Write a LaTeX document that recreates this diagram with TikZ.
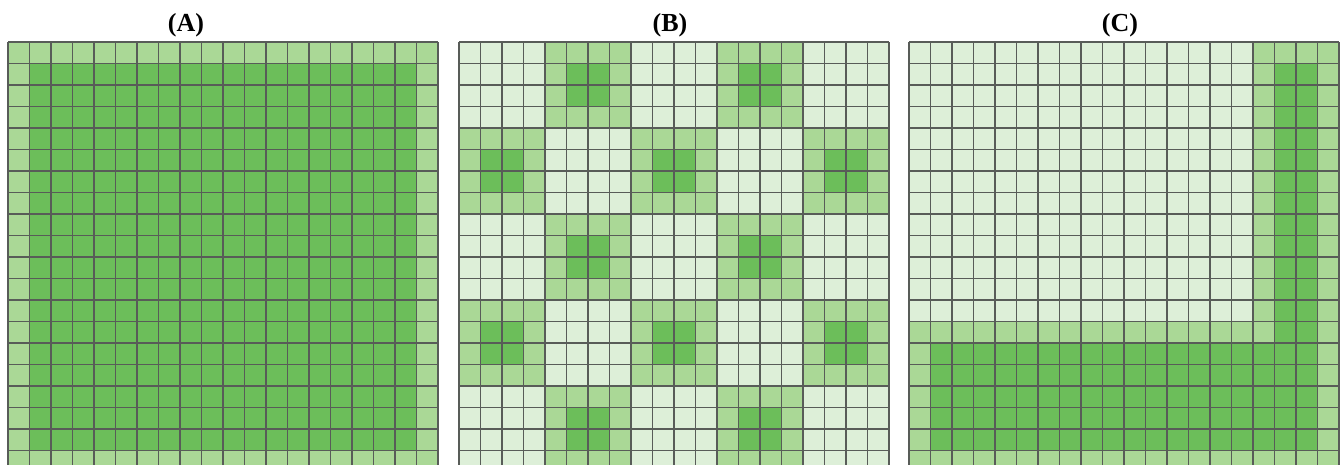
\documentclass[tikz,border=0pt]{standalone}
\usepackage{fontspec}
\setmainfont{Liberation Serif}
\usetikzlibrary{positioning}
\definecolor{gdark}{RGB}{108,190,90}
\definecolor{glight}{RGB}{170,216,150}
\definecolor{gpale}{RGB}{221,239,216}
\definecolor{gline}{RGB}{88,92,88}
\newcommand{\csize}{21.5}
% fill cells col #2..#4, row #3..#5 (1-based) with style #1
\newcommand{\cells}[5]{\fill[#1] ({((#2)-1)*\csize},{((#3)-1)*\csize}) rectangle ({(#4)*\csize},{(#5)*\csize});}

\tikzset{
  panel label/.style={font=\fontsize{26}{28}\selectfont\bfseries, anchor=base},
  grid line/.style={gline, line width=1.4pt},
}

\begin{document}
\begin{tikzpicture}[x=1pt, y=-1pt]
  \useasboundingbox (0,0) rectangle (1343,464);
  \clip (0,0) rectangle (1343,464);

  % labels
  \node[panel label] (labA) at (186,31) {(A)};
  \node[panel label] (labB) at (670,31) {(B)};
  \node[panel label] (labC) at (1120,31) {(C)};

  % (A) full square
  \begin{scope}[shift={(8,42)}]
    \cells{glight}{1}{1}{20}{20}
    \cells{gdark}{2}{2}{19}{19}
    \foreach \i in {0,...,20} {
      \draw[grid line] ({\i*\csize},0) -- ({\i*\csize},{20*\csize});
      \draw[grid line] (0,{\i*\csize}) -- ({20*\csize},{\i*\csize});
    }
  \end{scope}

  % (B) checkerboard of small squares
  \begin{scope}[shift={(459,42)}]
    \cells{gpale}{1}{1}{20}{20}
    \foreach \bi in {1,...,5} {
      \foreach \bj in {1,...,5} {
        \pgfmathtruncatemacro{\odd}{mod(\bi+\bj,2)}
        \ifnum\odd=1
          \pgfmathtruncatemacro{\ca}{4*\bj-3}
          \pgfmathtruncatemacro{\cb}{4*\bj}
          \pgfmathtruncatemacro{\ra}{4*\bi-3}
          \pgfmathtruncatemacro{\rb}{4*\bi}
          \cells{glight}{\ca}{\ra}{\cb}{\rb}
          \cells{gdark}{\ca+1}{\ra+1}{\cb-1}{\rb-1}
        \fi
      }
    }
    \foreach \i in {0,...,20} {
      \draw[grid line] ({\i*\csize},0) -- ({\i*\csize},{20*\csize});
      \draw[grid line] (0,{\i*\csize}) -- ({20*\csize},{\i*\csize});
    }
  \end{scope}

  % (C) L-shaped band
  \begin{scope}[shift={(909,42)}]
    \cells{gpale}{1}{1}{20}{20}
    \cells{glight}{1}{14}{20}{20}
    \cells{glight}{17}{1}{20}{20}
    \cells{gdark}{2}{15}{19}{19}
    \cells{gdark}{18}{2}{19}{19}
    \foreach \i in {0,...,20} {
      \draw[grid line] ({\i*\csize},0) -- ({\i*\csize},{20*\csize});
      \draw[grid line] (0,{\i*\csize}) -- ({20*\csize},{\i*\csize});
    }
  \end{scope}
\end{tikzpicture}
\end{document}
